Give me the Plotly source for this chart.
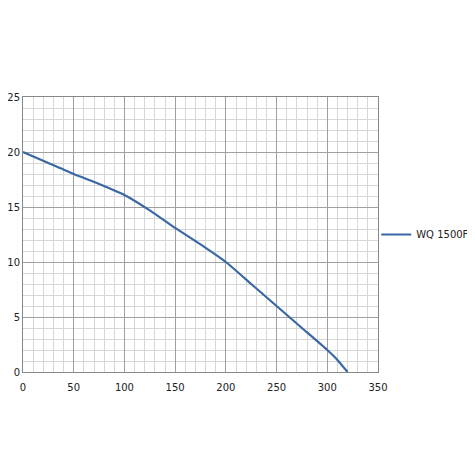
import plotly.graph_objects as go

flow = [0, 25, 50, 75, 100, 125, 150, 175, 200, 225, 250, 275, 300, 310, 320]
head = [20, 19, 18, 17.1, 16.1, 14.7, 13.1, 11.6, 10, 8, 6, 4, 2, 1.1, 0]

fig = go.Figure(go.Scatter(x=flow, y=head, mode='lines', name='WQ 1500F',
                           line=dict(color='#3a67a5', width=2.2, shape='spline', smoothing=0.5)))

axis = dict(showline=True, linecolor='#888888', linewidth=1, gridcolor='#a0a0a0', gridwidth=1,
            zeroline=False, ticks='', tickfont=dict(size=10, color='#222'), automargin=False,
            minor=dict(showgrid=True, gridcolor='#d6d6d6', gridwidth=1))
fig.update_xaxes(range=[0, 350], dtick=50, minor_dtick=10, mirror=True, ticklabelstandoff=6, **axis)
fig.update_yaxes(range=[0, 25], dtick=5, minor_dtick=1, mirror=True, **axis)

# page is drawn 8px in from the top-left, so margins are shifted to compensate
fig.update_layout(
    width=475, height=475, paper_bgcolor='white', plot_bgcolor='white',
    font=dict(family='DejaVu Sans', size=10, color='#222'),
    margin=dict(l=15, r=105, t=89, b=111, autoexpand=False),
    showlegend=True,
    legend=dict(x=0.995, y=0.5, yanchor='middle', xanchor='left', font=dict(size=10),
                itemwidth=30, bgcolor='rgba(0,0,0,0)'),
)
fig.write_html("out.html", config={'responsive': False})
